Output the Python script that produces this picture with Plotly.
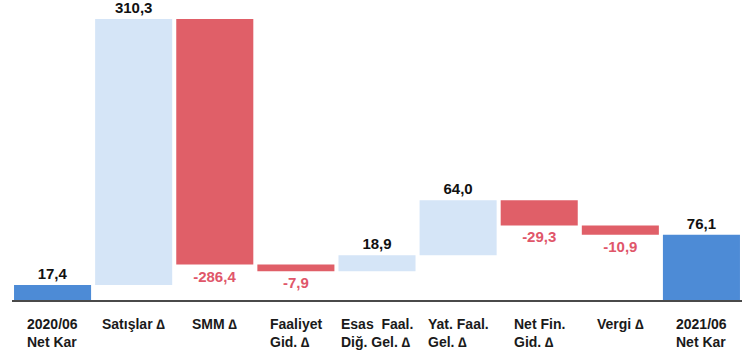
import plotly.graph_objects as go

# Net profit bridge, 2020/06 -> 2021/06 (million TL)
categories = [
    "2020/06<br>Net Kar",
    "Satışlar ∆",
    "SMM ∆",
    "Faaliyet<br>Gid. ∆",
    "Esas  Faal.<br>Diğ. Gel. ∆",
    "Yat. Faal.<br>Gel. ∆",
    "Net Fin.<br>Gid. ∆",
    "Vergi ∆",
    "2021/06<br>Net Kar",
]
values = [17.4, 310.3, -286.4, -7.9, 18.9, 64.0, -29.3, -10.9, 76.1]
measures = ["absolute", "relative", "relative", "relative", "relative",
            "relative", "relative", "relative", "total"]

labels = [f"{v:.1f}".replace(".", ",") for v in values]
label_colors = ["#e0566a" if v < 0 else "#111111" for v in values]

FONT = "Liberation Sans, Arial, sans-serif"
xs = list(range(len(categories)))

fig = go.Figure(
    go.Waterfall(
        x=xs,
        y=values,
        measure=measures,
        text=labels,
        textposition="outside",
        textfont=dict(family=FONT, size=15, color=label_colors, weight="bold"),
        outsidetextfont=dict(family=FONT, size=15, color=label_colors, weight="bold"),
        increasing=dict(marker=dict(color="#d5e5f7")),
        decreasing=dict(marker=dict(color="#e05f68")),
        totals=dict(marker=dict(color="#4d8bd6")),
        connector=dict(visible=False),
        cliponaxis=False,
    )
)

# Category labels: each block centred under its bar, lines left-aligned
for x, c in zip(xs, categories):
    fig.add_annotation(
        x=x, xref="x", y=0, yref="paper",
        text=f"<b>{c}</b>",
        showarrow=False,
        xanchor="center", yanchor="top", align="left",
        yshift=-14,
        font=dict(family=FONT, size=14, color="#1a1a1a"),
    )

fig.update_layout(
    width=750,
    height=358,
    margin=dict(l=12, r=8, t=0, b=58),
    paper_bgcolor="white",
    plot_bgcolor="white",
    showlegend=False,
    waterfallgap=0.05,
    font=dict(family=FONT, color="#222222"),
)
fig.update_xaxes(
    range=[-0.5, len(categories) - 0.5],
    showticklabels=False,
    showline=True,
    linecolor="#4a4a4a",
    linewidth=2,
    showgrid=False,
    ticks="",
)
fig.update_yaxes(
    range=[0, 350],
    visible=False,
    showgrid=False,
    zeroline=False,
)

fig.write_html("out.html")
